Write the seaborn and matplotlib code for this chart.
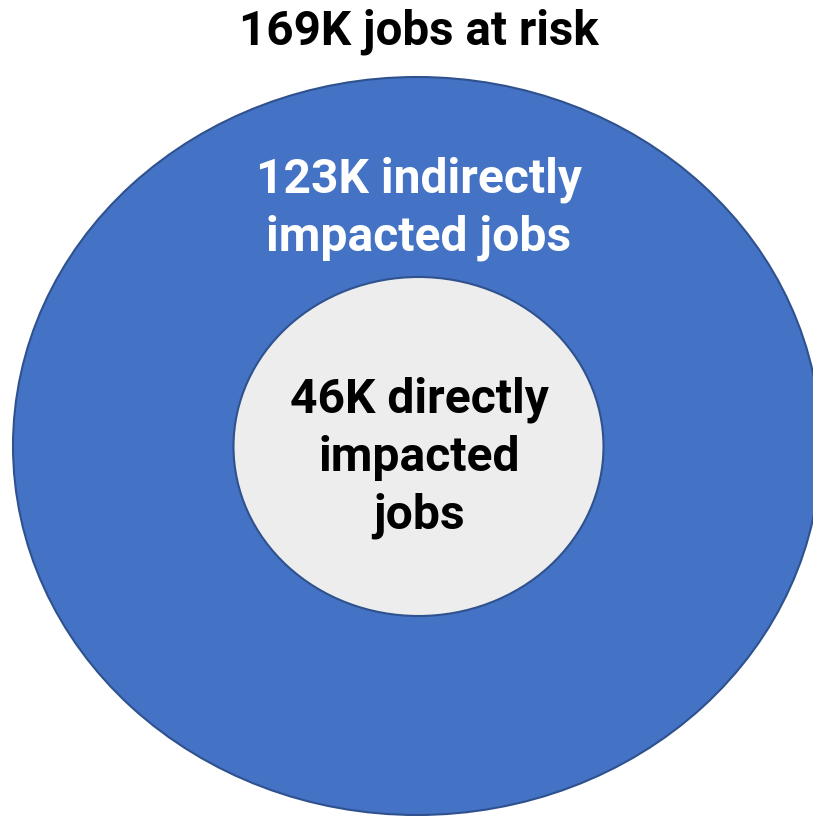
import matplotlib
matplotlib.use("Agg")
import matplotlib.pyplot as plt
from matplotlib.patches import Ellipse
import seaborn as sns

# Data
title_text = "169K jobs at risk"
total_jobs_k = 169
indirect_jobs_k = 123
direct_jobs_k = 46
outer_label = f"{indirect_jobs_k}K indirectly\nimpacted jobs"
inner_label = f"{direct_jobs_k}K directly\nimpacted\njobs"

sns.set_theme(style="white")
plt.rcParams['font.family'] = ['Roboto', 'DejaVu Sans']

W, H = 813, 816
fig = plt.figure(figsize=(W / 100, H / 100), dpi=100)
ax = fig.add_axes([0, 0, 1, 1])
ax.set_xlim(0, W)
ax.set_ylim(H, 0)
ax.axis("off")

edge = "#2F528F"
outer = Ellipse((417, 446), 808, 738, facecolor="#4472C4", edgecolor=edge, linewidth=1.5)
inner = Ellipse((418.5, 446.5), 370, 339, facecolor="#EDEDED", edgecolor=edge, linewidth=1.5)
ax.add_patch(outer)
ax.add_patch(inner)

ax.text(419, 32, title_text, ha="center", va="center", fontsize=34.3,
        fontweight="bold", color="black")
ax.text(419, 209, outer_label, ha="center", va="center", fontsize=34.6,
        fontweight="bold", color="white", linespacing=1.33)
ax.text(419, 458, inner_label, ha="center", va="center", fontsize=34.6,
        fontweight="bold", color="black", linespacing=1.33)

fig.savefig("out.png", dpi=100)
